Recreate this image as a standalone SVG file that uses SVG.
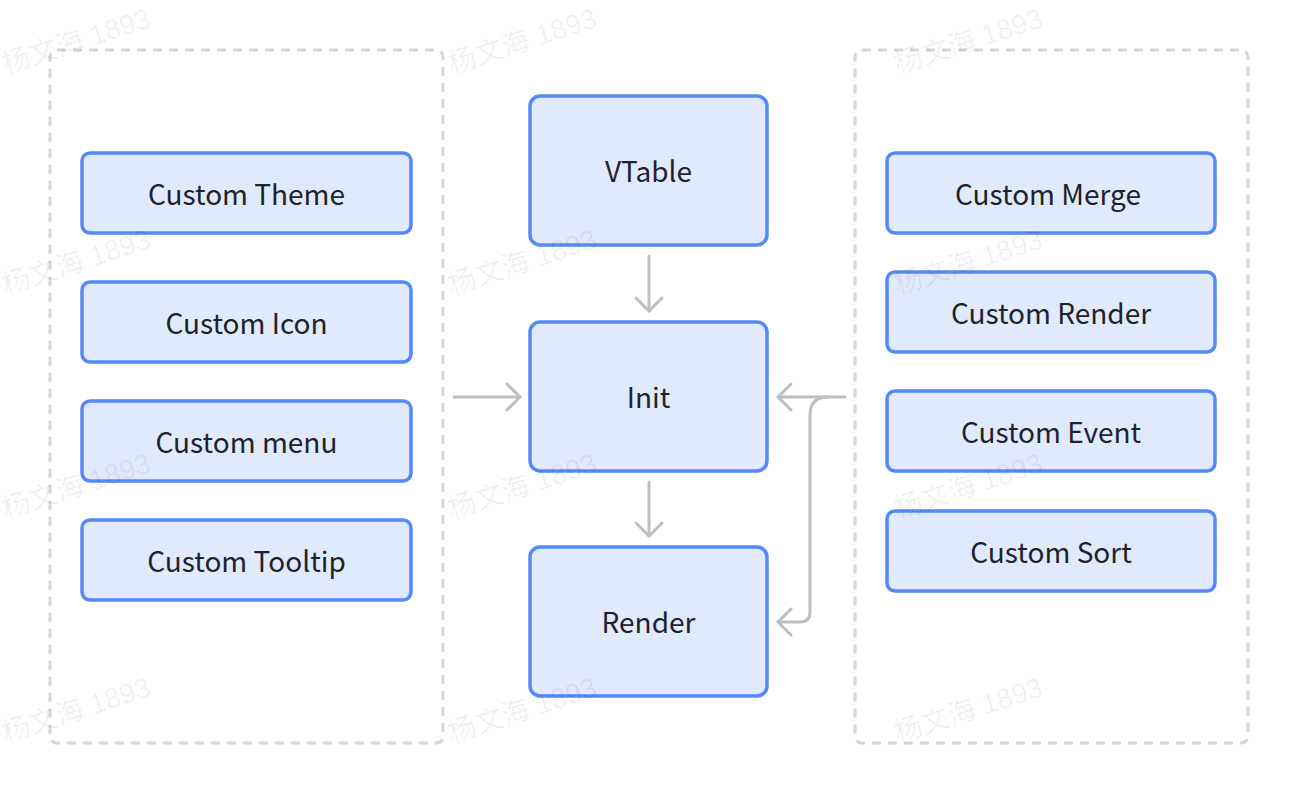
<svg xmlns="http://www.w3.org/2000/svg" width="1298" height="794" viewBox="0 0 1298 794">
<defs>
<style>
.box{fill:#e1e9fd;stroke:#5389f8;stroke-width:3.5}
.lbl{font-family:"Noto Sans CJK SC","Noto Sans",sans-serif;font-size:28px;fill:#1f2329;text-anchor:middle;dominant-baseline:central}
.grp{fill:none;stroke:#d6d6d6;stroke-width:3;stroke-dasharray:9 7}
.edge{fill:none;stroke:#bbbfc4;stroke-width:3;stroke-linecap:round;stroke-linejoin:round}
.wm{font-family:"Liberation Sans","Noto Sans CJK SC",sans-serif;font-size:28px;fill:#000;fill-opacity:0.06}
</style>
<marker id="ah" viewBox="0 0 20 30" refX="16" refY="15" markerWidth="20" markerHeight="30" markerUnits="userSpaceOnUse" orient="auto">
<path d="M3,2 L16,15 L3,28" fill="none" stroke="#bbbfc4" stroke-width="3" stroke-linecap="round" stroke-linejoin="round"/>
</marker>
</defs>
<rect width="1298" height="794" fill="#ffffff"/>
<g id="group-left"><rect class="grp" x="50" y="50" width="393" height="693" rx="7"/></g>
<g id="group-right"><rect class="grp" x="855" y="50" width="393" height="693" rx="7"/></g>
<g id="connectors">
<path class="edge" d="M649,256 V311" marker-end="url(#ah)"/>
<path class="edge" d="M649,482 V536" marker-end="url(#ah)"/>
<path class="edge" d="M454,397 H520" marker-end="url(#ah)"/>
<path class="edge" d="M845,397 H778" marker-end="url(#ah)"/>
<path class="edge" d="M828,397 Q810,397 810,415 V612 Q810,622 800,622 H778" marker-end="url(#ah)"/>
</g>
<g id="n-theme"><rect class="box" x="82" y="153" width="329" height="80" rx="8"/><text class="lbl" x="246.5" y="193">Custom Theme</text></g>
<g id="n-icon"><rect class="box" x="82" y="282" width="329" height="80" rx="8"/><text class="lbl" x="246.5" y="322">Custom Icon</text></g>
<g id="n-menu"><rect class="box" x="82" y="401" width="329" height="80" rx="8"/><text class="lbl" x="246.5" y="441">Custom menu</text></g>
<g id="n-tooltip"><rect class="box" x="82" y="520" width="329" height="80" rx="8"/><text class="lbl" x="246.5" y="560">Custom Tooltip</text></g>
<g id="n-vtable"><rect class="box" x="530" y="96" width="237" height="149" rx="10"/><text class="lbl" x="648.5" y="170">VTable</text></g>
<g id="n-init"><rect class="box" x="530" y="322" width="237" height="149" rx="10"/><text class="lbl" x="648.5" y="396">Init</text></g>
<g id="n-render"><rect class="box" x="530" y="547" width="237" height="149" rx="10"/><text class="lbl" x="648.5" y="621">Render</text></g>
<g id="n-merge"><rect class="box" x="887" y="153" width="328" height="80" rx="8"/><text class="lbl" x="1048" y="193">Custom Merge</text></g>
<g id="n-crender"><rect class="box" x="887" y="272" width="328" height="80" rx="8"/><text class="lbl" x="1051" y="312">Custom Render</text></g>
<g id="n-event"><rect class="box" x="887" y="391" width="328" height="80" rx="8"/><text class="lbl" x="1051" y="431">Custom Event</text></g>
<g id="n-sort"><rect class="box" x="887" y="511" width="328" height="80" rx="8"/><text class="lbl" x="1051" y="551">Custom Sort</text></g>
<g id="watermarks">
<text class="wm" transform="translate(6,74) rotate(-18)">杨文海 1893</text>
<text class="wm" transform="translate(452,74) rotate(-18)">杨文海 1893</text>
<text class="wm" transform="translate(898,74) rotate(-18)">杨文海 1893</text>
<text class="wm" transform="translate(6,295) rotate(-18)">杨文海 1893</text>
<text class="wm" transform="translate(452,295) rotate(-18)">杨文海 1893</text>
<text class="wm" transform="translate(898,295) rotate(-18)">杨文海 1893</text>
<text class="wm" transform="translate(6,519) rotate(-18)">杨文海 1893</text>
<text class="wm" transform="translate(452,519) rotate(-18)">杨文海 1893</text>
<text class="wm" transform="translate(898,519) rotate(-18)">杨文海 1893</text>
<text class="wm" transform="translate(6,743) rotate(-18)">杨文海 1893</text>
<text class="wm" transform="translate(452,743) rotate(-18)">杨文海 1893</text>
<text class="wm" transform="translate(898,743) rotate(-18)">杨文海 1893</text>
</g>
</svg>
